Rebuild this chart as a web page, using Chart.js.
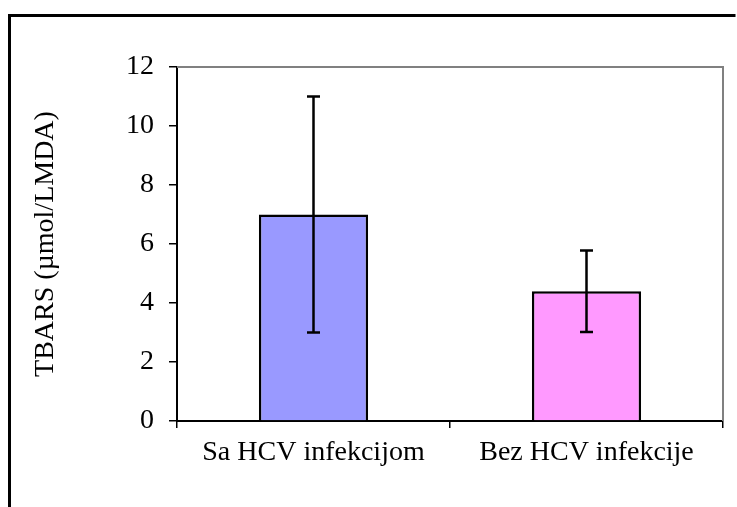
<!DOCTYPE html>
<html>
<head>
<meta charset="utf-8">
<script src="https://cdn.jsdelivr.net/npm/chart.js@4"></script>
<style>
  body { margin: 0; background: #fff; }
  canvas { display: block; }
</style>
</head>
<body>
<canvas id="tbarsChart" width="737" height="507"></canvas>
<script>
// Chart data
const categories = ['Sa HCV infekcijom', 'Bez HCV infekcije'];
const meanValues = [7.0, 4.4];
const errorValues = [4.0, 1.38];
const barColors = ['#9999FF', '#FF99FF'];
const yTicks = [0, 2, 4, 6, 8, 10, 12];

const serif = "'Liberation Serif', 'Times New Roman', Times, serif";

// Outer frame + grey top/right border of the plot area
const framePlugin = {
    id: 'frame',
    beforeDraw(chart) {
        const ctx = chart.ctx;
        ctx.save();
        ctx.fillStyle = '#fff';
        ctx.fillRect(0, 0, chart.width, chart.height);
        ctx.strokeStyle = '#000';
        ctx.lineWidth = 3;
        ctx.beginPath();
        ctx.moveTo(9.5, chart.height);
        ctx.lineTo(9.5, 15.5);
        ctx.lineTo(735.5, 15.5);
        ctx.stroke();
        ctx.restore();
    },
    beforeDatasetsDraw(chart) {
        const a = chart.chartArea;
        const ctx = chart.ctx;
        ctx.save();
        ctx.strokeStyle = '#808080';
        ctx.lineWidth = 2;
        ctx.beginPath();
        ctx.moveTo(a.left, a.top);
        ctx.lineTo(a.right, a.top);
        ctx.lineTo(a.right, a.bottom);
        ctx.stroke();
        ctx.restore();
    }
};

// Error bars drawn from the data arrays through the chart scales
const errorBarPlugin = {
    id: 'errorBars',
    afterDatasetsDraw(chart) {
        const ctx = chart.ctx;
        const yScale = chart.scales.y;
        const meta = chart.getDatasetMeta(0);
        ctx.save();
        ctx.strokeStyle = '#000';
        ctx.lineWidth = 2.5;
        meta.data.forEach((bar, i) => {
            const x = bar.x;
            const yHi = yScale.getPixelForValue(meanValues[i] + errorValues[i]);
            const yLo = yScale.getPixelForValue(meanValues[i] - errorValues[i]);
            ctx.beginPath();
            ctx.moveTo(x, yHi);
            ctx.lineTo(x, yLo);
            ctx.moveTo(x - 6.5, yHi);
            ctx.lineTo(x + 6.5, yHi);
            ctx.moveTo(x - 6.5, yLo);
            ctx.lineTo(x + 6.5, yLo);
            ctx.stroke();
        });
        ctx.restore();
    }
};

new Chart(document.getElementById('tbarsChart'), {
    type: 'bar',
    data: {
        labels: categories,
        datasets: [{
            data: meanValues,
            backgroundColor: barColors,
            borderColor: '#000',
            borderWidth: 2.5,
            categoryPercentage: 1.0,
            barPercentage: 0.4
        }]
    },
    options: {
        responsive: false,
        animation: false,
        layout: {
            padding: { left: 0, top: 67, right: 14, bottom: 0 }
        },
        plugins: {
            legend: { display: false },
            tooltip: { enabled: false }
        },
        scales: {
            x: {
                offset: true,
                grid: {
                    offset: true,
                    drawOnChartArea: false,
                    drawTicks: true,
                    tickLength: 7,
                    color: '#000',
                    lineWidth: 1.5
                },
                border: { color: '#000', width: 2 },
                ticks: {
                    color: '#000',
                    padding: 8,
                    font: { family: serif, size: 28 }
                },
                afterFit(scale) { scale.height = 86; }
            },
            y: {
                min: 0,
                max: 12,
                afterBuildTicks(scale) {
                    scale.ticks = yTicks.map(v => ({ value: v }));
                },
                grid: {
                    drawOnChartArea: false,
                    drawTicks: true,
                    tickLength: 8,
                    color: '#000',
                    lineWidth: 1.5
                },
                border: { color: '#000', width: 2 },
                ticks: {
                    color: '#000',
                    padding: 15,
                    font: { family: serif, size: 28 }
                },
                title: {
                    display: true,
                    text: 'TBARS (µmol/LMDA)',
                    color: '#000',
                    font: { family: serif, size: 28 },
                    padding: { top: 29, bottom: 0 }
                },
                afterFit(scale) { scale.width = 177; }
            }
        }
    },
    plugins: [framePlugin, errorBarPlugin]
});
</script>
</body>
</html>
